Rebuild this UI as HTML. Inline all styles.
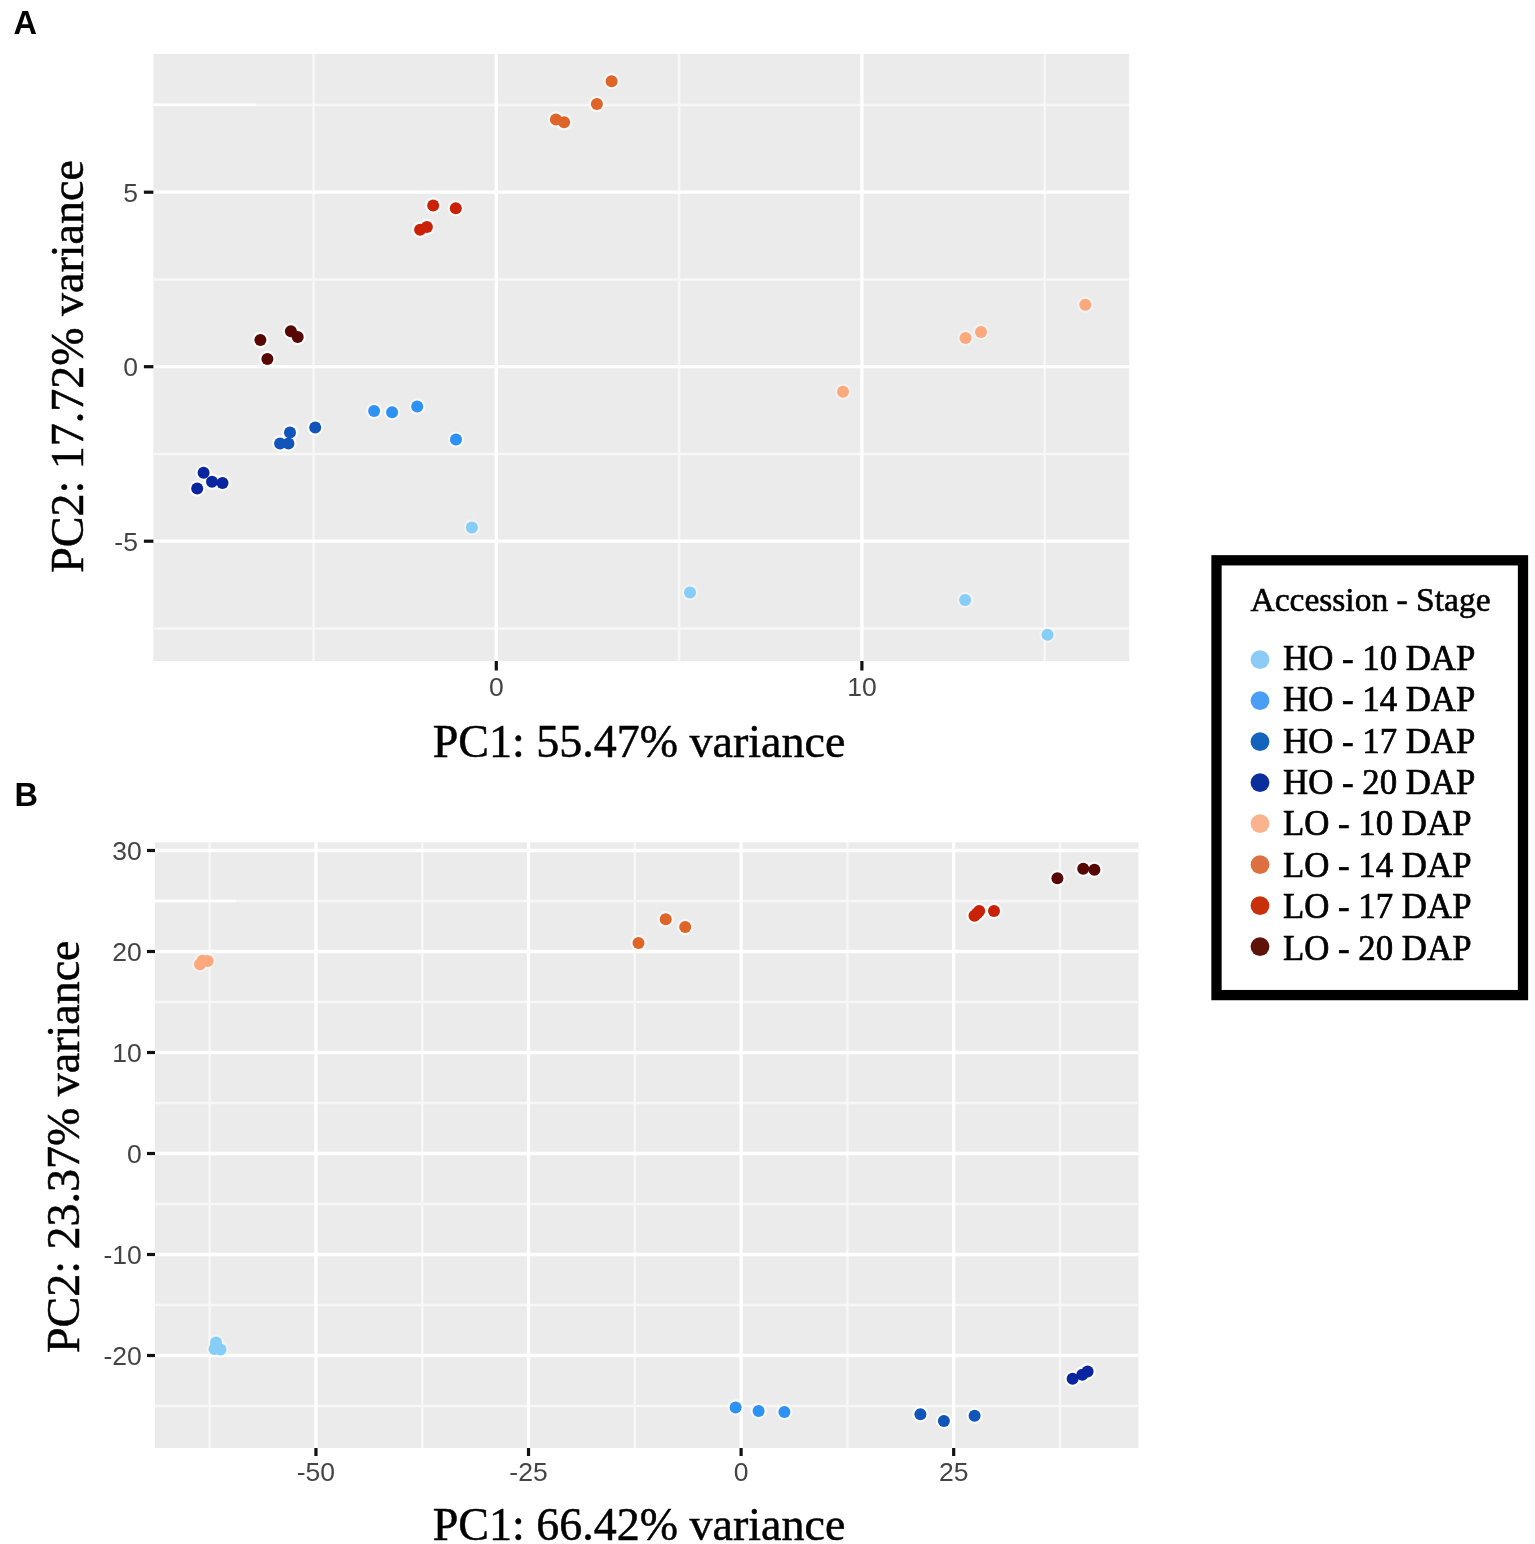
<!DOCTYPE html>
<html><head><meta charset="utf-8"><title>PCA</title>
<style>
html,body{margin:0;padding:0;background:#fff;}
body{width:1535px;height:1544px;overflow:hidden;}
svg{display:block;}
.ax{font-family:"Liberation Sans",Arial,sans-serif;font-size:26.5px;fill:#444;}
.tit{font-family:"Liberation Serif","Times New Roman",serif;font-size:46px;fill:#000;stroke:#000;stroke-width:0.5px;}
.tag{font-family:"Liberation Sans",Arial,sans-serif;font-size:32.5px;font-weight:bold;fill:#000;}
.lt{font-family:"Liberation Serif","Times New Roman",serif;font-size:33.5px;fill:#000;stroke:#000;stroke-width:0.6px;}
.li{font-family:"Liberation Serif","Times New Roman",serif;font-size:34.8px;fill:#000;stroke:#000;stroke-width:0.7px;}
</style></head>
<body>
<svg width="1535" height="1544" viewBox="0 0 1535 1544">
<rect width="1535" height="1544" fill="#fff"/>
<rect x="153.4" y="54.0" width="975.80" height="607.00" fill="#EBEBEB"/>
<line x1="313.5" y1="54.0" x2="313.5" y2="661.0" stroke="#F7F7F7" stroke-width="2.4"/>
<line x1="679.1" y1="54.0" x2="679.1" y2="661.0" stroke="#F7F7F7" stroke-width="2.4"/>
<line x1="1044.7" y1="54.0" x2="1044.7" y2="661.0" stroke="#F7F7F7" stroke-width="2.4"/>
<line x1="153.4" y1="628.45" x2="1129.2" y2="628.45" stroke="#F7F7F7" stroke-width="2.4"/>
<line x1="153.4" y1="453.95" x2="1129.2" y2="453.95" stroke="#F7F7F7" stroke-width="2.4"/>
<line x1="153.4" y1="279.45" x2="1129.2" y2="279.45" stroke="#F7F7F7" stroke-width="2.4"/>
<line x1="153.4" y1="104.94999999999999" x2="1129.2" y2="104.94999999999999" stroke="#F7F7F7" stroke-width="2.4"/>
<line x1="496.3" y1="54.0" x2="496.3" y2="661.0" stroke="#fff" stroke-width="3.3"/>
<line x1="861.9000000000001" y1="54.0" x2="861.9000000000001" y2="661.0" stroke="#fff" stroke-width="3.3"/>
<line x1="153.4" y1="541.2" x2="1129.2" y2="541.2" stroke="#fff" stroke-width="3.3"/>
<line x1="153.4" y1="366.7" x2="1129.2" y2="366.7" stroke="#fff" stroke-width="3.3"/>
<line x1="153.4" y1="192.2" x2="1129.2" y2="192.2" stroke="#fff" stroke-width="3.3"/>
<circle cx="471.9" cy="527.4" r="8.2" fill="#fff" fill-opacity="0.35"/>
<circle cx="690" cy="592.4" r="8.2" fill="#fff" fill-opacity="0.35"/>
<circle cx="965.1" cy="599.9" r="8.2" fill="#fff" fill-opacity="0.35"/>
<circle cx="1047.5" cy="634.7" r="8.2" fill="#fff" fill-opacity="0.35"/>
<circle cx="374.1" cy="411.1" r="8.2" fill="#fff" fill-opacity="0.6"/>
<circle cx="392.1" cy="412.2" r="8.2" fill="#fff" fill-opacity="0.6"/>
<circle cx="417.2" cy="406.5" r="8.2" fill="#fff" fill-opacity="0.6"/>
<circle cx="456" cy="439.6" r="8.2" fill="#fff" fill-opacity="0.6"/>
<circle cx="315.2" cy="427.5" r="8.2" fill="#fff" fill-opacity="0.8"/>
<circle cx="290" cy="432.4" r="8.2" fill="#fff" fill-opacity="0.8"/>
<circle cx="280.1" cy="443.4" r="8.2" fill="#fff" fill-opacity="0.8"/>
<circle cx="288.4" cy="443.4" r="8.2" fill="#fff" fill-opacity="0.8"/>
<circle cx="203.6" cy="472.7" r="8.2" fill="#fff" fill-opacity="0.85"/>
<circle cx="212" cy="481.8" r="8.2" fill="#fff" fill-opacity="0.85"/>
<circle cx="222.5" cy="482.9" r="8.2" fill="#fff" fill-opacity="0.85"/>
<circle cx="197.2" cy="488.6" r="8.2" fill="#fff" fill-opacity="0.85"/>
<circle cx="1085.3" cy="304.7" r="8.2" fill="#fff" fill-opacity="0.35"/>
<circle cx="981" cy="332" r="8.2" fill="#fff" fill-opacity="0.35"/>
<circle cx="965.5" cy="338" r="8.2" fill="#fff" fill-opacity="0.35"/>
<circle cx="843" cy="391.8" r="8.2" fill="#fff" fill-opacity="0.35"/>
<circle cx="611.6" cy="81.3" r="8.2" fill="#fff" fill-opacity="0.6"/>
<circle cx="596.9" cy="104.1" r="8.2" fill="#fff" fill-opacity="0.6"/>
<circle cx="555.9" cy="119.4" r="8.2" fill="#fff" fill-opacity="0.6"/>
<circle cx="564.1" cy="122.3" r="8.2" fill="#fff" fill-opacity="0.6"/>
<circle cx="433.2" cy="205.4" r="8.2" fill="#fff" fill-opacity="0.75"/>
<circle cx="455.8" cy="208.3" r="8.2" fill="#fff" fill-opacity="0.75"/>
<circle cx="420.1" cy="229.8" r="8.2" fill="#fff" fill-opacity="0.75"/>
<circle cx="426.9" cy="226.9" r="8.2" fill="#fff" fill-opacity="0.75"/>
<circle cx="260.4" cy="340" r="8.2" fill="#fff" fill-opacity="0.85"/>
<circle cx="267.4" cy="358.9" r="8.2" fill="#fff" fill-opacity="0.85"/>
<circle cx="290.9" cy="331.3" r="8.2" fill="#fff" fill-opacity="0.85"/>
<circle cx="297.7" cy="337" r="8.2" fill="#fff" fill-opacity="0.85"/>
<circle cx="471.9" cy="527.4" r="6.0" fill="#86CDF8"/>
<circle cx="690" cy="592.4" r="6.0" fill="#86CDF8"/>
<circle cx="965.1" cy="599.9" r="6.0" fill="#86CDF8"/>
<circle cx="1047.5" cy="634.7" r="6.0" fill="#86CDF8"/>
<circle cx="374.1" cy="411.1" r="6.0" fill="#2E92F5"/>
<circle cx="392.1" cy="412.2" r="6.0" fill="#2E92F5"/>
<circle cx="417.2" cy="406.5" r="6.0" fill="#2E92F5"/>
<circle cx="456" cy="439.6" r="6.0" fill="#2E92F5"/>
<circle cx="315.2" cy="427.5" r="6.0" fill="#0F55BA"/>
<circle cx="290" cy="432.4" r="6.0" fill="#0F55BA"/>
<circle cx="280.1" cy="443.4" r="6.0" fill="#0F55BA"/>
<circle cx="288.4" cy="443.4" r="6.0" fill="#0F55BA"/>
<circle cx="203.6" cy="472.7" r="6.0" fill="#0926A0"/>
<circle cx="212" cy="481.8" r="6.0" fill="#0926A0"/>
<circle cx="222.5" cy="482.9" r="6.0" fill="#0926A0"/>
<circle cx="197.2" cy="488.6" r="6.0" fill="#0926A0"/>
<circle cx="1085.3" cy="304.7" r="6.0" fill="#FBA97C"/>
<circle cx="981" cy="332" r="6.0" fill="#FBA97C"/>
<circle cx="965.5" cy="338" r="6.0" fill="#FBA97C"/>
<circle cx="843" cy="391.8" r="6.0" fill="#FBA97C"/>
<circle cx="611.6" cy="81.3" r="6.0" fill="#DE6428"/>
<circle cx="596.9" cy="104.1" r="6.0" fill="#DE6428"/>
<circle cx="555.9" cy="119.4" r="6.0" fill="#DE6428"/>
<circle cx="564.1" cy="122.3" r="6.0" fill="#DE6428"/>
<circle cx="433.2" cy="205.4" r="6.0" fill="#C92206"/>
<circle cx="455.8" cy="208.3" r="6.0" fill="#C92206"/>
<circle cx="420.1" cy="229.8" r="6.0" fill="#C92206"/>
<circle cx="426.9" cy="226.9" r="6.0" fill="#C92206"/>
<circle cx="260.4" cy="340" r="6.0" fill="#570805"/>
<circle cx="267.4" cy="358.9" r="6.0" fill="#570805"/>
<circle cx="290.9" cy="331.3" r="6.0" fill="#570805"/>
<circle cx="297.7" cy="337" r="6.0" fill="#570805"/>
<line x1="496.3" y1="661.0" x2="496.3" y2="670.5" stroke="#111" stroke-width="3.2"/>
<text x="496.3" y="696.0" text-anchor="middle" class="ax">0</text>
<line x1="861.9000000000001" y1="661.0" x2="861.9000000000001" y2="670.5" stroke="#111" stroke-width="3.2"/>
<text x="861.9000000000001" y="696.0" text-anchor="middle" class="ax">10</text>
<line x1="143.9" y1="541.2" x2="153.4" y2="541.2" stroke="#111" stroke-width="3.2"/>
<text x="137.9" y="550.7" text-anchor="end" class="ax">-5</text>
<line x1="143.9" y1="366.7" x2="153.4" y2="366.7" stroke="#111" stroke-width="3.2"/>
<text x="137.9" y="376.2" text-anchor="end" class="ax">0</text>
<line x1="143.9" y1="192.2" x2="153.4" y2="192.2" stroke="#111" stroke-width="3.2"/>
<text x="137.9" y="201.7" text-anchor="end" class="ax">5</text>
<rect x="155.0" y="842.3" width="983.50" height="605.70" fill="#EBEBEB"/>
<line x1="209.66250000000002" y1="842.3" x2="209.66250000000002" y2="1448.0" stroke="#F7F7F7" stroke-width="2.4"/>
<line x1="422.2375" y1="842.3" x2="422.2375" y2="1448.0" stroke="#F7F7F7" stroke-width="2.4"/>
<line x1="634.8125" y1="842.3" x2="634.8125" y2="1448.0" stroke="#F7F7F7" stroke-width="2.4"/>
<line x1="847.3875" y1="842.3" x2="847.3875" y2="1448.0" stroke="#F7F7F7" stroke-width="2.4"/>
<line x1="1059.9625" y1="842.3" x2="1059.9625" y2="1448.0" stroke="#F7F7F7" stroke-width="2.4"/>
<line x1="155.0" y1="1406.0" x2="1138.5" y2="1406.0" stroke="#F7F7F7" stroke-width="2.4"/>
<line x1="155.0" y1="1305.0" x2="1138.5" y2="1305.0" stroke="#F7F7F7" stroke-width="2.4"/>
<line x1="155.0" y1="1204.0" x2="1138.5" y2="1204.0" stroke="#F7F7F7" stroke-width="2.4"/>
<line x1="155.0" y1="1103.0" x2="1138.5" y2="1103.0" stroke="#F7F7F7" stroke-width="2.4"/>
<line x1="155.0" y1="1002.0" x2="1138.5" y2="1002.0" stroke="#F7F7F7" stroke-width="2.4"/>
<line x1="155.0" y1="901.0" x2="1138.5" y2="901.0" stroke="#F7F7F7" stroke-width="2.4"/>
<line x1="315.95000000000005" y1="842.3" x2="315.95000000000005" y2="1448.0" stroke="#fff" stroke-width="3.3"/>
<line x1="528.5250000000001" y1="842.3" x2="528.5250000000001" y2="1448.0" stroke="#fff" stroke-width="3.3"/>
<line x1="741.1" y1="842.3" x2="741.1" y2="1448.0" stroke="#fff" stroke-width="3.3"/>
<line x1="953.675" y1="842.3" x2="953.675" y2="1448.0" stroke="#fff" stroke-width="3.3"/>
<line x1="155.0" y1="1355.5" x2="1138.5" y2="1355.5" stroke="#fff" stroke-width="3.3"/>
<line x1="155.0" y1="1254.5" x2="1138.5" y2="1254.5" stroke="#fff" stroke-width="3.3"/>
<line x1="155.0" y1="1153.5" x2="1138.5" y2="1153.5" stroke="#fff" stroke-width="3.3"/>
<line x1="155.0" y1="1052.5" x2="1138.5" y2="1052.5" stroke="#fff" stroke-width="3.3"/>
<line x1="155.0" y1="951.5" x2="1138.5" y2="951.5" stroke="#fff" stroke-width="3.3"/>
<line x1="155.0" y1="850.5" x2="1138.5" y2="850.5" stroke="#fff" stroke-width="3.3"/>
<circle cx="216" cy="1342.5" r="8.2" fill="#fff" fill-opacity="0.35"/>
<circle cx="214.5" cy="1349" r="8.2" fill="#fff" fill-opacity="0.35"/>
<circle cx="220.5" cy="1349.5" r="8.2" fill="#fff" fill-opacity="0.35"/>
<circle cx="735.6" cy="1407.4" r="8.2" fill="#fff" fill-opacity="0.6"/>
<circle cx="758.6" cy="1410.9" r="8.2" fill="#fff" fill-opacity="0.6"/>
<circle cx="784.4" cy="1411.9" r="8.2" fill="#fff" fill-opacity="0.6"/>
<circle cx="920.4" cy="1414.2" r="8.2" fill="#fff" fill-opacity="0.8"/>
<circle cx="943.9" cy="1421" r="8.2" fill="#fff" fill-opacity="0.8"/>
<circle cx="974.6" cy="1415.8" r="8.2" fill="#fff" fill-opacity="0.8"/>
<circle cx="1072.6" cy="1378.7" r="8.2" fill="#fff" fill-opacity="0.85"/>
<circle cx="1082.3" cy="1374.8" r="8.2" fill="#fff" fill-opacity="0.85"/>
<circle cx="1087.6" cy="1371.5" r="8.2" fill="#fff" fill-opacity="0.85"/>
<circle cx="200" cy="964.3" r="8.2" fill="#fff" fill-opacity="0.35"/>
<circle cx="202.5" cy="960.7" r="8.2" fill="#fff" fill-opacity="0.35"/>
<circle cx="207.7" cy="961" r="8.2" fill="#fff" fill-opacity="0.35"/>
<circle cx="638.5" cy="943.1" r="8.2" fill="#fff" fill-opacity="0.6"/>
<circle cx="665.7" cy="919.2" r="8.2" fill="#fff" fill-opacity="0.6"/>
<circle cx="685.2" cy="927.1" r="8.2" fill="#fff" fill-opacity="0.6"/>
<circle cx="974.5" cy="915.7" r="8.2" fill="#fff" fill-opacity="0.75"/>
<circle cx="979.2" cy="911" r="8.2" fill="#fff" fill-opacity="0.75"/>
<circle cx="994" cy="911" r="8.2" fill="#fff" fill-opacity="0.75"/>
<circle cx="977" cy="913.5" r="8.2" fill="#fff" fill-opacity="0.75"/>
<circle cx="1057.4" cy="878.2" r="8.2" fill="#fff" fill-opacity="0.85"/>
<circle cx="1083.2" cy="868.8" r="8.2" fill="#fff" fill-opacity="0.85"/>
<circle cx="1094.4" cy="869.7" r="8.2" fill="#fff" fill-opacity="0.85"/>
<circle cx="216" cy="1342.5" r="6.0" fill="#86CDF8"/>
<circle cx="214.5" cy="1349" r="6.0" fill="#86CDF8"/>
<circle cx="220.5" cy="1349.5" r="6.0" fill="#86CDF8"/>
<circle cx="735.6" cy="1407.4" r="6.0" fill="#2E92F5"/>
<circle cx="758.6" cy="1410.9" r="6.0" fill="#2E92F5"/>
<circle cx="784.4" cy="1411.9" r="6.0" fill="#2E92F5"/>
<circle cx="920.4" cy="1414.2" r="6.0" fill="#0F55BA"/>
<circle cx="943.9" cy="1421" r="6.0" fill="#0F55BA"/>
<circle cx="974.6" cy="1415.8" r="6.0" fill="#0F55BA"/>
<circle cx="1072.6" cy="1378.7" r="6.0" fill="#0926A0"/>
<circle cx="1082.3" cy="1374.8" r="6.0" fill="#0926A0"/>
<circle cx="1087.6" cy="1371.5" r="6.0" fill="#0926A0"/>
<circle cx="200" cy="964.3" r="6.0" fill="#FBA97C"/>
<circle cx="202.5" cy="960.7" r="6.0" fill="#FBA97C"/>
<circle cx="207.7" cy="961" r="6.0" fill="#FBA97C"/>
<circle cx="638.5" cy="943.1" r="6.0" fill="#DE6428"/>
<circle cx="665.7" cy="919.2" r="6.0" fill="#DE6428"/>
<circle cx="685.2" cy="927.1" r="6.0" fill="#DE6428"/>
<circle cx="974.5" cy="915.7" r="6.0" fill="#C92206"/>
<circle cx="979.2" cy="911" r="6.0" fill="#C92206"/>
<circle cx="994" cy="911" r="6.0" fill="#C92206"/>
<circle cx="977" cy="913.5" r="6.0" fill="#C92206"/>
<circle cx="1057.4" cy="878.2" r="6.0" fill="#570805"/>
<circle cx="1083.2" cy="868.8" r="6.0" fill="#570805"/>
<circle cx="1094.4" cy="869.7" r="6.0" fill="#570805"/>
<line x1="315.95000000000005" y1="1448.0" x2="315.95000000000005" y2="1456.0" stroke="#111" stroke-width="3.2"/>
<text x="315.95000000000005" y="1480.5" text-anchor="middle" class="ax">-50</text>
<line x1="528.5250000000001" y1="1448.0" x2="528.5250000000001" y2="1456.0" stroke="#111" stroke-width="3.2"/>
<text x="528.5250000000001" y="1480.5" text-anchor="middle" class="ax">-25</text>
<line x1="741.1" y1="1448.0" x2="741.1" y2="1456.0" stroke="#111" stroke-width="3.2"/>
<text x="741.1" y="1480.5" text-anchor="middle" class="ax">0</text>
<line x1="953.675" y1="1448.0" x2="953.675" y2="1456.0" stroke="#111" stroke-width="3.2"/>
<text x="953.675" y="1480.5" text-anchor="middle" class="ax">25</text>
<line x1="147.0" y1="1355.5" x2="155.0" y2="1355.5" stroke="#111" stroke-width="3.2"/>
<text x="141.8" y="1365.0" text-anchor="end" class="ax">-20</text>
<line x1="147.0" y1="1254.5" x2="155.0" y2="1254.5" stroke="#111" stroke-width="3.2"/>
<text x="141.8" y="1264.0" text-anchor="end" class="ax">-10</text>
<line x1="147.0" y1="1153.5" x2="155.0" y2="1153.5" stroke="#111" stroke-width="3.2"/>
<text x="141.8" y="1163.0" text-anchor="end" class="ax">0</text>
<line x1="147.0" y1="1052.5" x2="155.0" y2="1052.5" stroke="#111" stroke-width="3.2"/>
<text x="141.8" y="1062.0" text-anchor="end" class="ax">10</text>
<line x1="147.0" y1="951.5" x2="155.0" y2="951.5" stroke="#111" stroke-width="3.2"/>
<text x="141.8" y="961.0" text-anchor="end" class="ax">20</text>
<line x1="147.0" y1="850.5" x2="155.0" y2="850.5" stroke="#111" stroke-width="3.2"/>
<text x="141.8" y="860.0" text-anchor="end" class="ax">30</text>

<line x1="153.4" y1="104.8" x2="256" y2="104.8" stroke="#fff" stroke-width="2.6"/>
<line x1="155" y1="901" x2="236" y2="901" stroke="#fff" stroke-width="2.4"/>


<text x="13.5" y="34.4" class="tag">A</text>
<text x="14.5" y="805.8" class="tag">B</text>
<text x="639" y="756.5" text-anchor="middle" class="tit">PC1: 55.47% variance</text>
<text x="639" y="1539.5" text-anchor="middle" class="tit">PC1: 66.42% variance</text>
<text transform="translate(82.6,366.5) rotate(-90)" text-anchor="middle" class="tit">PC2: 17.72% variance</text>
<text transform="translate(78.5,1146.8) rotate(-90)" text-anchor="middle" class="tit">PC2: 23.37% variance</text>

<rect x="1216.5" y="560.3" width="306.5" height="434.8" fill="#fff" stroke="#000" stroke-width="10.3"/>
<text x="1250.5" y="611" class="lt">Accession - Stage</text>
<circle cx="1260" cy="659.6" r="9.4" fill="#8DCBF7"/>
<text x="1283" y="669.9" class="li">HO - 10 DAP</text>
<circle cx="1260" cy="700.6" r="9.4" fill="#4A9EF5"/>
<text x="1283" y="711.3" class="li">HO - 14 DAP</text>
<circle cx="1260" cy="741.6" r="9.4" fill="#1464BE"/>
<text x="1283" y="752.6" class="li">HO - 17 DAP</text>
<circle cx="1260" cy="782.6" r="9.4" fill="#0A2E9C"/>
<text x="1283" y="794.0" class="li">HO - 20 DAP</text>
<circle cx="1260" cy="823.6" r="9.4" fill="#F9B38F"/>
<text x="1283" y="835.4" class="li">LO - 10 DAP</text>
<circle cx="1260" cy="864.6" r="9.4" fill="#DD7040"/>
<text x="1283" y="876.8" class="li">LO - 14 DAP</text>
<circle cx="1260" cy="905.6" r="9.4" fill="#C8300A"/>
<text x="1283" y="918.1" class="li">LO - 17 DAP</text>
<circle cx="1260" cy="946.6" r="9.4" fill="#5E1208"/>
<text x="1283" y="959.5" class="li">LO - 20 DAP</text>
</svg>
</body></html>
